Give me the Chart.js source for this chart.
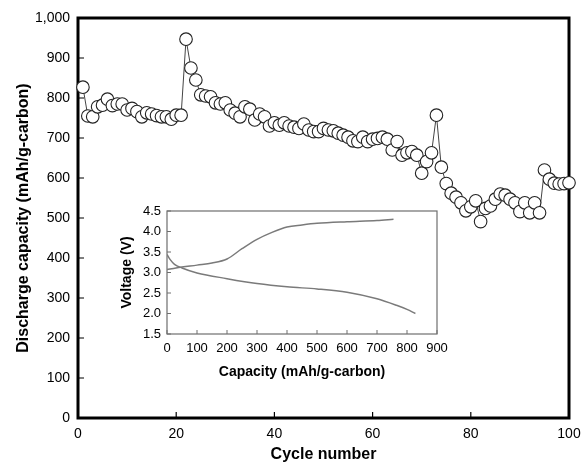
<!DOCTYPE html>
<html>
<head>
<meta charset="utf-8">
<script src="https://cdn.jsdelivr.net/npm/chart.js@4.4.0/dist/chart.umd.min.js"></script>
<style>
  html, body { margin: 0; padding: 0; background: #fff; }
  #wrap { position: relative; width: 583px; height: 464px; }
  #main { position: absolute; left: 0; top: 0; }
  #inset { position: absolute; left: 108px; top: 200px; }
</style>
</head>
<body>
<div id="wrap">
  <canvas id="main" width="583" height="464"></canvas>
  <canvas id="inset" width="360" height="190"></canvas>
</div>
<script>
// ---- Main chart data (cycle number vs discharge capacity) ----
const cycles = [
  1,2,3,4,5,6,7,8,9,10,11,12,13,14,15,16,17,18,19,20,
  21,22,23,24,25,26,27,28,29,30,31,32,33,34,35,36,37,38,39,40,
  41,42,43,44,45,46,47,48,49,50,51,52,53,54,55,56,57,58,59,60,
  61,62,63,64,65,66,67,68,69,70,71,72,73,74,75,76,77,78,79,80,
  81,82,83,84,85,86,87,88,89,90,91,92,93,94,95,96,97,98,99,100,102
];
const capacity = [
  827,755,753,778,782,797,781,785,785,770,774,766,753,763,760,756,753,753,747,757,
  757,947,875,845,808,805,803,788,785,788,770,762,753,778,772,745,760,753,730,738,
  732,738,730,727,724,735,720,716,716,724,720,718,712,707,702,693,691,702,691,697,
  699,702,697,670,691,657,663,666,657,612,641,663,757,627,586,562,552,538,518,528,
  543,491,524,530,547,560,557,547,538,516,538,513,538,513,620,597,587,585,586,588,614
];
const xTicksMain = [0, 20, 40, 60, 80, 100];
const yTicksMain = [0, 100, 200, 300, 400, 500, 600, 700, 800, 900, 1000];

// ---- Inset data (voltage profile) ----
const chargeCap = [0, 30, 100, 150, 200, 250, 300, 350, 400, 450, 500, 600, 700, 755];
const chargeV   = [3.07, 3.11, 3.18, 3.23, 3.33, 3.58, 3.81, 3.98, 4.11, 4.16, 4.20, 4.24, 4.27, 4.30];
const dischCap  = [0, 10, 25, 50, 100, 200, 300, 400, 500, 600, 700, 765, 800, 828];
const dischV    = [3.44, 3.32, 3.20, 3.11, 2.99, 2.85, 2.73, 2.65, 2.60, 2.52, 2.36, 2.20, 2.10, 2.00];
const xTicksInset = [0, 100, 200, 300, 400, 500, 600, 700, 800, 900];
const yTicksInset = [1.5, 2.0, 2.5, 3.0, 3.5, 4.0, 4.5];

Chart.defaults.font.family = "'Liberation Sans', Arial, sans-serif";
Chart.defaults.color = '#000';

// Frame + inward ticks plugin
function framePlugin(opts) {
  return {
    id: 'frame_' + opts.name,
    beforeDatasetsDraw(chart) {
      const {ctx, chartArea: a, scales: {x, y}} = chart;
      ctx.save();
      ctx.strokeStyle = opts.color;
      ctx.lineWidth = opts.tickWidth;
      ctx.beginPath();
      x.ticks.forEach(t => {
        const px = x.getPixelForValue(t.value);
        ctx.moveTo(px, a.bottom);
        ctx.lineTo(px, a.bottom - opts.tickLen);
      });
      y.ticks.forEach(t => {
        const py = y.getPixelForValue(t.value);
        ctx.moveTo(a.left, py);
        ctx.lineTo(a.left + opts.tickLen, py);
      });
      ctx.stroke();
      ctx.lineWidth = opts.lineWidth;
      ctx.strokeRect(a.left, a.top, a.right - a.left, a.bottom - a.top);
      ctx.restore();
    }
  };
}

const fitX = h => s => { s.height = h; s.paddingLeft = 0; s.paddingRight = 0; };
const fitY = w => s => { s.width = w; s.paddingTop = 0; s.paddingBottom = 0; };

const mainPoints = cycles.map((c, i) => ({x: c, y: capacity[i]}));
const mainRadii = cycles.map(c => (c > 100 ? 0 : 6.3));

new Chart(document.getElementById('main'), {
  type: 'line',
  data: {
    datasets: [{
      data: mainPoints,
      borderColor: '#444',
      borderWidth: 1,
      pointRadius: mainRadii,
      pointBackgroundColor: '#fff',
      pointBorderColor: '#222',
      pointBorderWidth: 1.1,
      tension: 0,
      clip: {left: 8, right: 9, top: 8, bottom: 8}
    }]
  },
  options: {
    animation: false,
    responsive: false,
    devicePixelRatio: 1,
    events: [],
    layout: {padding: {left: 0, right: 14, top: 18, bottom: 0}},
    plugins: {legend: {display: false}, tooltip: {enabled: false}},
    scales: {
      x: {
        type: 'linear', min: 0, max: 100,
        afterBuildTicks: s => { s.ticks = xTicksMain.map(v => ({value: v})); },
        ticks: {font: {size: 14}, color: '#000', padding: 8, maxRotation: 0, autoSkip: false},
        grid: {display: false, drawTicks: false},
        border: {display: false},
        title: {display: true, text: 'Cycle number', color: '#000',
                font: {size: 16, weight: 'bold'}, padding: {top: 0, bottom: 0}},
        afterFit: fitX(46)
      },
      y: {
        type: 'linear', min: 0, max: 1000,
        afterBuildTicks: s => { s.ticks = yTicksMain.map(v => ({value: v})); },
        ticks: {font: {size: 14}, color: '#000', padding: 8, autoSkip: false,
                callback: v => v.toLocaleString('en-US')},
        grid: {display: false, drawTicks: false},
        border: {display: false},
        title: {display: true, text: 'Discharge capacity (mAh/g-carbon)', color: '#000',
                font: {size: 16, weight: 'bold'}, padding: {top: 14, bottom: 0}},
        afterFit: fitY(78)
      }
    }
  },
  plugins: [framePlugin({name: 'main', color: '#000', lineWidth: 3, tickWidth: 1.2, tickLen: 6})]
});

new Chart(document.getElementById('inset'), {
  type: 'scatter',
  data: {
    datasets: [
      {
        data: chargeCap.map((c, i) => ({x: c, y: chargeV[i]})),
        showLine: true, borderColor: '#7a7a7a', borderWidth: 1.5, pointRadius: 0,
        cubicInterpolationMode: 'monotone'
      },
      {
        data: dischCap.map((c, i) => ({x: c, y: dischV[i]})),
        showLine: true, borderColor: '#7a7a7a', borderWidth: 1.5, pointRadius: 0,
        cubicInterpolationMode: 'monotone'
      }
    ]
  },
  options: {
    animation: false,
    responsive: false,
    devicePixelRatio: 1,
    events: [],
    layout: {padding: {left: 0, right: 31, top: 11, bottom: 0}},
    plugins: {legend: {display: false}, tooltip: {enabled: false}},
    scales: {
      x: {
        type: 'linear', min: 0, max: 900,
        afterBuildTicks: s => { s.ticks = xTicksInset.map(v => ({value: v})); },
        ticks: {font: {size: 13}, color: '#000', padding: 7, maxRotation: 0, autoSkip: false},
        grid: {display: false, drawTicks: false},
        border: {display: false},
        title: {display: true, text: 'Capacity (mAh/g-carbon)', color: '#000',
                font: {size: 14, weight: 'bold'}, padding: {top: 0, bottom: 9}},
        afterFit: fitX(56)
      },
      y: {
        type: 'linear', min: 1.5, max: 4.5,
        afterBuildTicks: s => { s.ticks = yTicksInset.map(v => ({value: v})); },
        ticks: {font: {size: 13}, color: '#000', padding: 6, autoSkip: false,
                callback: v => Number(v).toFixed(1)},
        grid: {display: false, drawTicks: false},
        border: {display: false},
        title: {display: true, text: 'Voltage (V)', color: '#000',
                font: {size: 14, weight: 'bold'}, padding: {top: 11, bottom: 0}},
        afterFit: fitY(59)
      }
    }
  },
  plugins: [framePlugin({name: 'inset', color: '#6e6e6e', lineWidth: 1.2, tickWidth: 1, tickLen: 4})]
});
</script>
</body>
</html>
